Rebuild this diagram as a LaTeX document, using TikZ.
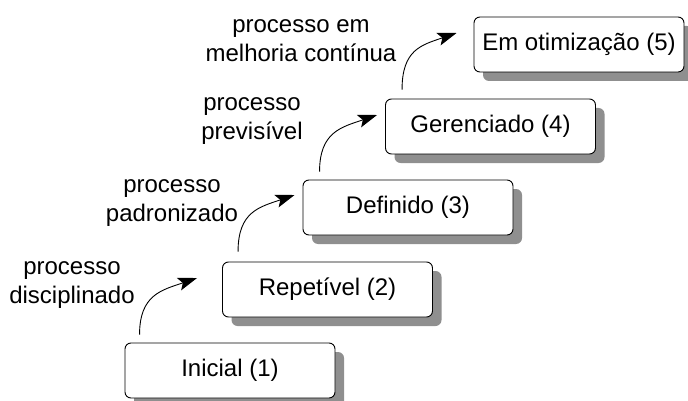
\documentclass[tikz,border=0pt]{standalone}
\usepackage{fontspec}
\setmainfont{Liberation Sans}
\usetikzlibrary{shadows,arrows.meta,calc}
\definecolor{shadowgray}{RGB}{143,143,143}
\begin{document}
\begin{tikzpicture}[x=1pt,y=-1pt,
  level/.style={draw=black, line width=0.9pt, rounded corners=6pt, fill=white,
    minimum width=210pt, minimum height=55pt, inner sep=0pt,
    font=\fontsize{24}{28}\selectfont,
    general shadow={fill=shadowgray, shadow xshift=9pt, shadow yshift=-9pt}},
  lbl/.style={align=center, font=\fontsize{24}{28.5}\selectfont, inner sep=0pt},
  stepar/.style={-{Stealth[length=19pt,width=13pt,inset=4pt]}, line width=0.9pt}]
\useasboundingbox (0,0) rectangle (688,401);
\node[level] (b1) at (230,370.5) {Inicial (1)};
\node[level] (b2) at (327.5,289.5) {Repetível (2)};
\node[level] (b3) at (408,207.5) {Definido (3)};
\node[level] (b4) at (490.5,126.5) {Gerenciado (4)};
\node[level] (b5) at (579,44.5) {Em otimização (5)};
\node[lbl] (l1) at (72,285) {processo\\disciplinado};
\node[lbl] (l2) at (172,203) {processo\\padronizado};
\node[lbl] (l3) at (252,121) {processo\\previsível};
\node[lbl] (l4) at (301,40.5) {processo em\\melhoria contínua};
\coordinate (a1s) at ($(b1.north west)+(15,-8)$);
\coordinate (a1e) at ($(b2.west)+(-25,-11.5)$);
\coordinate (a2s) at ($(b2.north west)+(16,-10)$);
\coordinate (a2e) at ($(b3.west)+(-8,-12.5)$);
\coordinate (a3s) at ($(b3.north west)+(17,-8)$);
\coordinate (a3e) at ($(b4.west)+(-8,-11.5)$);
\coordinate (a4s) at ($(b4.north west)+(17,-9)$);
\coordinate (a4e) at ($(b5.west)+(-17,-11.5)$);
\draw[stepar] (a1s) .. controls +(0,-40) and +(-35,12) .. (a1e);
\draw[stepar] (a2s) .. controls +(0,-40) and +(-35,12) .. (a2e);
\draw[stepar] (a3s) .. controls +(0,-40) and +(-35,12) .. (a3e);
\draw[stepar] (a4s) .. controls +(0,-40) and +(-35,12) .. (a4e);
\end{tikzpicture}
\end{document}
